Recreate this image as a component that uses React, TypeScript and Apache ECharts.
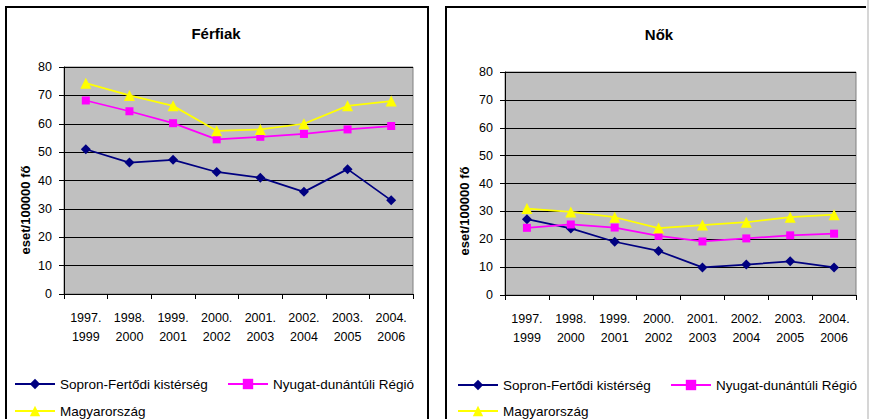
import React, { useEffect, useRef } from "react";
import * as echarts from "echarts";

const periodStart = ["1997.", "1998.", "1999.", "2000.", "2001.", "2002.", "2003.", "2004."];
const periodEnd = ["1999", "2000", "2001", "2002", "2003", "2004", "2005", "2006"];
const categories = periodStart.map((s, i) => s + "\n" + periodEnd[i]);

const seriesNames = ["Sopron-Fertődi kistérség", "Nyugat-dunántúli Régió", "Magyarország"];

// Férfiak (men)
const menSopron = [51, 46.3, 47.3, 43, 41, 36, 44, 33];
const menRegion = [68.2, 64.4, 60.2, 54.5, 55.4, 56.4, 58, 59.2];
const menHungary = [74.3, 70, 66.3, 57.5, 58, 60, 66.3, 68];

// Nők (women)
const womenSopron = [27.2, 23.9, 19.1, 15.8, 9.9, 10.9, 12.1, 9.9];
const womenRegion = [24.1, 25.3, 24.2, 21.2, 19.2, 20.3, 21.4, 22];
const womenHungary = [31, 29.8, 27.9, 24, 25.1, 26.1, 27.9, 28.8];

const yTicks = { min: 0, max: 80, interval: 10 };

const FONT = "'Liberation Sans', Arial, sans-serif";
const COLORS = ["#000080", "#FF00FF", "#FFFF00"];
const SYMBOLS = ["diamond", "rect", "triangle"];
const SYMBOL_SIZES = [10, 8, 11];

export default function App() {
  const ref = useRef<HTMLDivElement>(null);

  useEffect(() => {
    if (!ref.current) return;
    const chart = echarts.init(ref.current, undefined, { renderer: "svg" });

    const grids = [
      { left: 64, top: 67, width: 349, height: 227 },
      { left: 505, top: 72, width: 351, height: 223 },
    ];

    const xAxes = grids.map((_, gi) => ({
      type: "category",
      gridIndex: gi,
      data: categories,
      boundaryGap: true,
      axisLine: { lineStyle: { color: "#000", width: 1 } },
      axisTick: { show: true, length: 5, lineStyle: { color: "#000" } },
      axisLabel: {
        interval: 0,
        margin: 14,
        fontSize: 12.5,
        lineHeight: 19,
        color: "#000",
        fontFamily: FONT,
      },
      splitLine: { show: false },
    }));

    const yAxes = grids.map((_, gi) => ({
      type: "value",
      gridIndex: gi,
      min: yTicks.min,
      max: yTicks.max,
      interval: yTicks.interval,
      axisLine: { show: true, lineStyle: { color: "#000", width: 1 } },
      axisTick: { show: true, length: 5, lineStyle: { color: "#000" } },
      axisLabel: { margin: 12, fontSize: 12.5, color: "#000", fontFamily: FONT },
      splitLine: { show: true, lineStyle: { color: "#000", width: 1 } },
    }));

    const dataSets = [
      [menSopron, menRegion, menHungary],
      [womenSopron, womenRegion, womenHungary],
    ];

    const series: any[] = [];
    dataSets.forEach((sets, gi) => {
      sets.forEach((d, si) => {
        series.push({
          type: "line",
          name: seriesNames[si],
          xAxisIndex: gi,
          yAxisIndex: gi,
          data: d,
          symbol: SYMBOLS[si],
          symbolSize: SYMBOL_SIZES[si],
          showSymbol: true,
          lineStyle: { color: COLORS[si], width: 1.75 },
          itemStyle: { color: COLORS[si] },
          emphasis: { disabled: true },
        });
      });
    });

    const legendPositions = [
      [
        { left: 14, top: 377, name: seriesNames[0] },
        { left: 227, top: 377, name: seriesNames[1] },
        { left: 14, top: 404, name: seriesNames[2] },
      ],
      [
        { left: 457, top: 378, name: seriesNames[0] },
        { left: 670, top: 378, name: seriesNames[1] },
        { left: 457, top: 404, name: seriesNames[2] },
      ],
    ];
    const legends: any[] = [];
    legendPositions.forEach((arr) =>
      arr.forEach((p) => {
        legends.push({
          left: p.left,
          top: p.top,
          orient: "horizontal",
          data: [p.name],
          itemWidth: 40,
          itemHeight: 13,
          selectedMode: false,
          padding: 0,
          textStyle: { fontSize: 13.5, color: "#000", fontFamily: FONT },
        });
      })
    );

    const option: any = {
      animation: false,
      backgroundColor: "#fff",
      grid: grids.map((g) => ({
        ...g,
        show: true,
        backgroundColor: "#C0C0C0",
        borderColor: "#808080",
        borderWidth: 1,
        containLabel: false,
      })),
      xAxis: xAxes,
      yAxis: yAxes,
      legend: legends,
      series,
      graphic: [
        // frames
        {
          type: "rect",
          shape: { x: 6, y: 7, width: 422, height: 440 },
          style: { fill: "none", stroke: "#000", lineWidth: 2 },
          silent: true,
        },
        {
          type: "polyline",
          shape: { points: [[446, 450], [446, 7], [866, 7]] },
          style: { fill: "none", stroke: "#000", lineWidth: 2 },
          silent: true,
        },
        {
          type: "line",
          shape: { x1: 868, y1: 0, x2: 868, y2: 419 },
          style: { stroke: "#C8C8C8", lineWidth: 1.5 },
          silent: true,
        },
        // titles
        {
          type: "text",
          x: 216,
          y: 33,
          style: {
            text: "Férfiak",
            fontSize: 15,
            fontWeight: "bold",
            fontFamily: FONT,
            fill: "#000",
            align: "center",
            verticalAlign: "middle",
          },
        },
        {
          type: "text",
          x: 659,
          y: 34,
          style: {
            text: "Nők",
            fontSize: 15,
            fontWeight: "bold",
            fontFamily: FONT,
            fill: "#000",
            align: "center",
            verticalAlign: "middle",
          },
        },
        // axis names
        {
          type: "text",
          x: 25,
          y: 210,
          rotation: Math.PI / 2,
          style: {
            text: "eset/100000 fő",
            fontSize: 13,
            fontWeight: "bold",
            fontFamily: FONT,
            fill: "#000",
            align: "center",
            verticalAlign: "middle",
          },
        },
        {
          type: "text",
          x: 464,
          y: 211,
          rotation: Math.PI / 2,
          style: {
            text: "eset/100000 fő",
            fontSize: 13,
            fontWeight: "bold",
            fontFamily: FONT,
            fill: "#000",
            align: "center",
            verticalAlign: "middle",
          },
        },
      ],
    };

    chart.setOption(option);
    return () => chart.dispose();
  }, []);

  return (
    <div
      ref={ref}
      style={{ position: "fixed", left: 0, top: 0, width: 870, height: 419 }}
    />
  );
}
